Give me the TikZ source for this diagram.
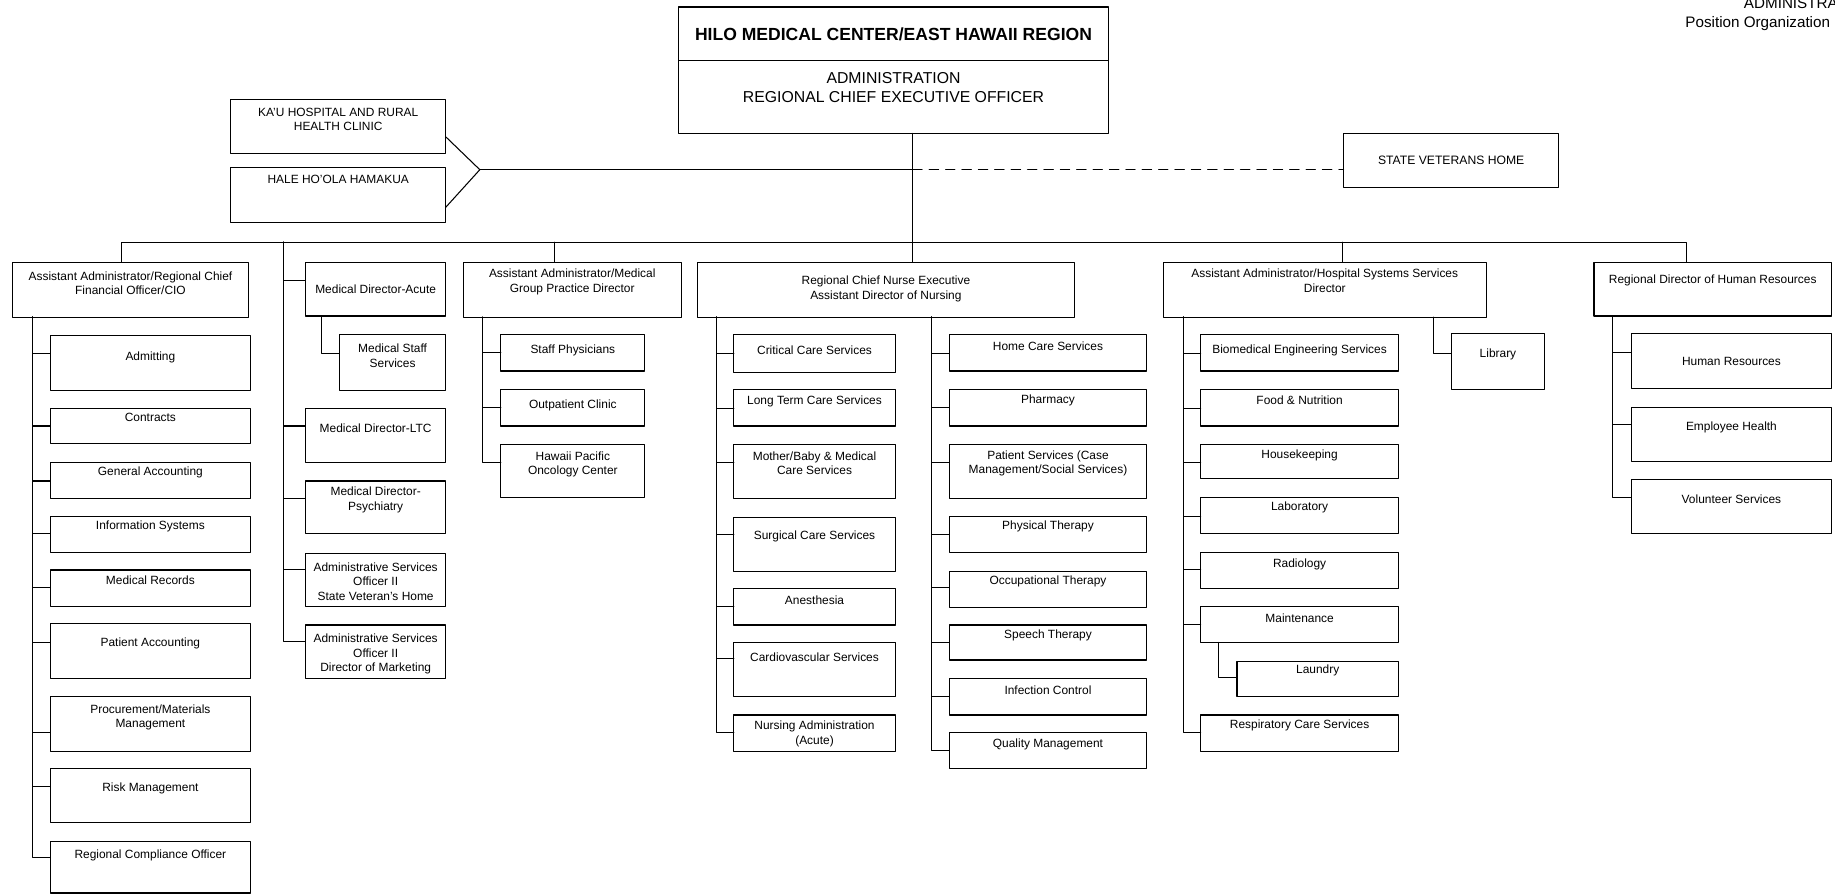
\documentclass[tikz,border=0pt]{standalone}
\usepackage{fontspec}
\setmainfont{Liberation Sans}
\usetikzlibrary{calc}
\begin{document}
\begin{tikzpicture}[line join=round,line cap=round,x=1pt,y=-1pt]
\tikzset{
  frame/.style={draw,line width=1pt,inner sep=0pt,outer sep=0pt,anchor=north west},
  txt/.style={inner sep=0pt,align=center,font=\fontsize{10.2}{12.3}\selectfont},
  link/.style={line width=0.9pt},
  big/.style={font=\fontsize{13.5}{16}\selectfont},
}
% box: name, x1, y1, x2, y2, text y, link y, text style, text
\def\orgbox#1#2#3#4#5#6#7#8#9{%
  \node[frame,minimum width={(#4-#2)*1pt},minimum height={(#5-#3)*1pt}] (#1) at (#2,#3) {};
  \node[txt,#8] (#1-t) at ({(#2+#4)/2},#6) {#9};
  \coordinate (#1-c) at (#2,#7);}
\useasboundingbox (0,0) rectangle (1568,764);

% title corner
\node[anchor=west,inner sep=0pt,font=\fontsize{13}{15}\selectfont] (ttl1) at (1490,3) {ADMINISTRATION};
\node[anchor=west,inner sep=0pt,font=\fontsize{13}{15}\selectfont] (ttl2) at (1440,20) {Position Organization};

% top
\orgbox{head}{580}{6}{947}{52}{29}{29}{font=\fontsize{15}{17}\selectfont\bfseries}{HILO MEDICAL CENTER/EAST HAWAII REGION}
\orgbox{ceo}{580}{52}{947}{114}{75}{75}{big}{ADMINISTRATION\\REGIONAL CHIEF EXECUTIVE OFFICER}
\orgbox{kau}{197}{85}{381}{131}{102}{117}{}{KA'U HOSPITAL AND RURAL\\HEALTH CLINIC}
\orgbox{hale}{197}{143}{381}{190}{153}{177}{}{HALE HO'OLA HAMAKUA}
\orgbox{svh}{1148}{114}{1332}{160}{137}{145}{font=\fontsize{10.4}{12}\selectfont}{STATE VETERANS HOME}

% column 1
\orgbox{cfo}{11}{224}{212}{271}{242}{242}{}{Assistant Administrator/Regional Chief\\Financial Officer/CIO}
\orgbox{admit}{43}{287}{214}{334}{305}{302}{}{Admitting}
\orgbox{contr}{43}{349}{214}{379}{357}{364}{}{Contracts}
\orgbox{genacc}{43}{395}{214}{426}{404}{411}{}{General Accounting}
\orgbox{infsys}{43}{441}{214}{472}{450}{456}{}{Information Systems}
\orgbox{medrec}{43}{487}{214}{518}{496}{502}{}{Medical Records}
\orgbox{patacc}{43}{533}{214}{580}{550}{549}{}{Patient Accounting}
\orgbox{procm}{43}{595}{214}{642}{613}{626}{}{Procurement/Materials\\Management}
\orgbox{riskm}{43}{657}{214}{703}{674}{672}{}{Risk Management}
\orgbox{rco}{43}{719}{214}{763}{731}{733}{}{Regional Compliance Officer}

% column 2
\orgbox{mda}{261}{224}{381}{270}{247}{240}{}{Medical Director-Acute}
\orgbox{mss}{290}{286}{381}{334}{304}{302}{}{Medical Staff\\Services}
\orgbox{mdl}{261}{349}{381}{395}{366}{364}{}{Medical Director-LTC}
\orgbox{mdp}{261}{411}{381}{456}{427}{426}{}{Medical Director-\\Psychiatry}
\orgbox{asv}{261}{473}{381}{518}{497}{487}{}{Administrative Services\\Officer II\\State Veteran's Home}
\orgbox{asm}{261}{534}{381}{580}{559}{548}{}{Administrative Services\\Officer II\\Director of Marketing}

% column 3
\orgbox{mgp}{396}{224}{582}{271}{241}{241}{}{Assistant Administrator/Medical\\Group Practice Director}
\orgbox{staffp}{428}{286}{551}{317}{299}{301}{}{Staff Physicians}
\orgbox{outp}{428}{333}{551}{364}{346}{348}{}{Outpatient Clinic}
\orgbox{hpoc}{428}{380}{551}{425}{397}{395}{}{Hawaii Pacific\\Oncology Center}

% column 4
\orgbox{nurse}{596}{224}{918}{271}{247}{247}{}{Regional Chief Nurse Executive\\Assistant Director of Nursing}
\orgbox{ccs}{627}{286}{765}{318}{299}{302}{}{Critical Care Services}
\orgbox{ltc}{627}{333}{765}{364}{343}{349}{}{Long Term Care Services}
\orgbox{mbm}{627}{380}{765}{426}{396}{395}{}{Mother/Baby \& Medical\\Care Services}
\orgbox{scs}{627}{442}{765}{488}{458}{457}{}{Surgical Care Services}
\orgbox{anes}{627}{503}{765}{534}{513}{518}{}{Anesthesia}
\orgbox{cvs}{627}{549}{765}{595}{562}{563}{}{Cardiovascular Services}
\orgbox{nadm}{627}{611}{765}{642}{627}{626}{}{Nursing Administration\\(Acute)}
\orgbox{hcs}{811}{286}{980}{317}{296}{302}{}{Home Care Services}
\orgbox{pharm}{811}{333}{980}{364}{342}{348}{}{Pharmacy}
\orgbox{pats}{811}{380}{980}{426}{396}{395}{}{Patient Services (Case\\Management/Social Services)}
\orgbox{pt}{811}{441}{980}{472}{450}{457}{}{Physical Therapy}
\orgbox{ot}{811}{488}{980}{519}{497}{502}{}{Occupational Therapy}
\orgbox{st}{811}{534}{980}{564}{543}{549}{}{Speech Therapy}
\orgbox{infc}{811}{580}{980}{611}{590}{595}{}{Infection Control}
\orgbox{qm}{811}{626}{980}{657}{636}{641}{}{Quality Management}

% column 5
\orgbox{hss}{994}{224}{1270}{271}{240}{240}{}{Assistant Administrator/Hospital Systems Services\\Director}
\orgbox{bes}{1026}{286}{1195}{317}{299}{302}{}{Biomedical Engineering Services}
\orgbox{food}{1026}{333}{1195}{364}{342}{349}{}{Food \& Nutrition}
\orgbox{house}{1026}{380}{1195}{409}{389}{395}{}{Housekeeping}
\orgbox{lab}{1026}{425}{1195}{456}{434}{441}{}{Laboratory}
\orgbox{rad}{1026}{472}{1195}{503}{482}{487}{}{Radiology}
\orgbox{maint}{1026}{518}{1195}{549}{528}{534}{}{Maintenance}
\orgbox{laundry}{1057}{565}{1195}{595}{573}{579}{}{Laundry}
\orgbox{resp}{1026}{611}{1195}{642}{620}{626}{}{Respiratory Care Services}
\orgbox{lib}{1240}{285}{1320}{333}{303}{302}{}{Library}

% column 6
\orgbox{hrdir}{1362}{224}{1565}{270}{240}{240}{}{Regional Director of Human Resources}
\orgbox{hres}{1394}{285}{1565}{332}{309}{301}{}{Human Resources}
\orgbox{emph}{1394}{348}{1565}{394}{365}{363}{}{Employee Health}
\orgbox{vols}{1394}{410}{1565}{456}{427}{425}{}{Volunteer Services}

% trunk, fork and bus
\coordinate (fork) at (410,145);
\coordinate (bus) at (780,207);
\coordinate (d1) at (104,207);
\coordinate (d2) at (242,207);
\coordinate (d3) at (474,207);
\coordinate (d5) at (1147,207);
\coordinate (d6) at (1441,207);
\draw[link] ($(kau.south east)+(0,-14)$) -- (fork) -- ($(hale.south east)+(0,-13)$);
\draw[link] (ceo.south -| bus) -- (bus);
\draw[link] (fork) -- (fork -| bus);
\draw[link,dash pattern=on 8pt off 6pt] (fork -| bus) -- (svh-c);
\draw[link] (cfo.north -| d1) -- (d1) -- (d6) -- (hrdir.north -| d6);
\draw[link] (d3) -- (mgp.north -| d3);
\draw[link] (bus) -- (nurse.north -| bus);
\draw[link] (d5) -- (hss.north -| d5);

% spines
\coordinate (s1) at (28,0);
\coordinate (s2) at (275,0);
\coordinate (s3) at (412,0);
\coordinate (s4) at (612,0);
\coordinate (s4r) at (796,0);
\coordinate (s5) at (1011,0);
\coordinate (s5l) at (1041,0);
\coordinate (s5r) at (1225,0);
\coordinate (s6) at (1378,0);
\foreach \c in {admit,contr,genacc,infsys,medrec,patacc,procm,riskm,rco}
  \draw[link] (cfo.south -| s1) |- (\c-c);
\foreach \c in {mda,mdl,mdp,asv,asm}
  \draw[link] (d2) |- (\c-c);
\draw[link] (mda.south -| s2) |- (mss-c);
\foreach \c in {staffp,outp,hpoc}
  \draw[link] (mgp.south -| s3) |- (\c-c);
\foreach \c in {ccs,ltc,mbm,scs,anes,cvs,nadm}
  \draw[link] (nurse.south -| s4) |- (\c-c);
\foreach \c in {hcs,pharm,pats,pt,ot,st,infc,qm}
  \draw[link] (nurse.south -| s4r) |- (\c-c);
\foreach \c in {bes,food,house,lab,rad,maint,resp}
  \draw[link] (hss.south -| s5) |- (\c-c);
\draw[link] (maint.south -| s5l) |- (laundry-c);
\draw[link] (hss.south -| s5r) |- (lib-c);
\foreach \c in {hres,emph,vols}
  \draw[link] (hrdir.south -| s6) |- (\c-c);
\end{tikzpicture}
\end{document}
